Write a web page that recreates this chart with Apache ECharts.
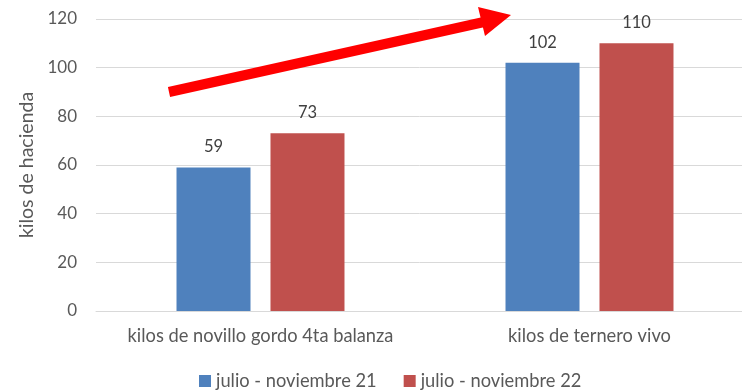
<!DOCTYPE html>
<html>
<head>
<meta charset="utf-8">
<script src="https://cdn.jsdelivr.net/npm/echarts@6/dist/echarts.min.js"></script>
<style>
  html, body { margin: 0; padding: 0; background: #fff; }
  #chart { width: 742px; height: 390px; }
</style>
</head>
<body>
<div id="chart"></div>
<script>
// Kilos de hacienda por categoría, dos períodos
const categories = ['kilos de novillo gordo 4ta balanza', 'kilos de ternero vivo'];
const seriesNames = ['julio - noviembre 21', 'julio - noviembre 22'];
const valores21 = [59, 102];
const valores22 = [73, 110];
const yTicks = { min: 0, max: 120, interval: 20 };

const FONT = 'Lato, "Open Sans", sans-serif';
const GREY = '#595959';

const chart = echarts.init(document.getElementById('chart'), null, { renderer: 'canvas' });

const labelStyle = {
  show: true,
  position: 'top',
  distance: 12,
  color: '#404040',
  fontSize: 16.5,
  fontFamily: FONT
};

chart.setOption({
  animation: false,
  backgroundColor: '#fff',
  // the plot area runs a little past the right edge of the canvas
  grid: {
    left: 96, width: 658, top: 19, height: 292,
    containLabel: false,
    outerBoundsMode: 'none'
  },
  legend: {
    top: 367,
    left: 194,
    itemWidth: 12,
    itemHeight: 12,
    itemGap: 27,
    icon: 'rect',
    textStyle: { color: GREY, fontSize: 18.3, fontFamily: FONT },
    data: seriesNames
  },
  xAxis: {
    type: 'category',
    data: categories,
    axisLine: { lineStyle: { color: '#d9d9d9', width: 1 } },
    axisTick: { show: false },
    axisLabel: {
      interval: 0,
      hideOverlap: false,
      color: GREY, fontSize: 18.3, fontFamily: FONT, margin: 16
    }
  },
  yAxis: {
    type: 'value',
    min: yTicks.min,
    max: yTicks.max,
    interval: yTicks.interval,
    name: 'kilos de hacienda',
    nameLocation: 'middle',
    nameGap: 59,
    nameTextStyle: { color: GREY, fontSize: 19.5, fontFamily: FONT },
    axisLine: { show: false },
    axisTick: { show: false },
    axisLabel: { color: GREY, fontSize: 17, fontFamily: FONT, margin: 19 },
    splitLine: { lineStyle: { color: '#d9d9d9', width: 1 } }
  },
  series: [
    {
      name: seriesNames[0],
      type: 'bar',
      data: valores21,
      barWidth: 74,
      barGap: '27%',
      itemStyle: { color: '#4F81BD' },
      label: labelStyle
    },
    {
      name: seriesNames[1],
      type: 'bar',
      data: valores22,
      barWidth: 74,
      barGap: '27%',
      itemStyle: { color: '#C0504D' },
      label: labelStyle
    }
  ],
  graphic: [
    // flecha de tendencia
    {
      type: 'line',
      shape: { x1: 169, y1: 92, x2: 484, y2: 22 },
      style: { stroke: '#FF0000', lineWidth: 10, lineCap: 'butt' },
      z: 100
    },
    {
      type: 'polygon',
      shape: { points: [[478, 7], [511, 15], [485, 36]] },
      style: { fill: '#FF0000' },
      z: 100
    }
  ]
});
</script>
</body>
</html>
